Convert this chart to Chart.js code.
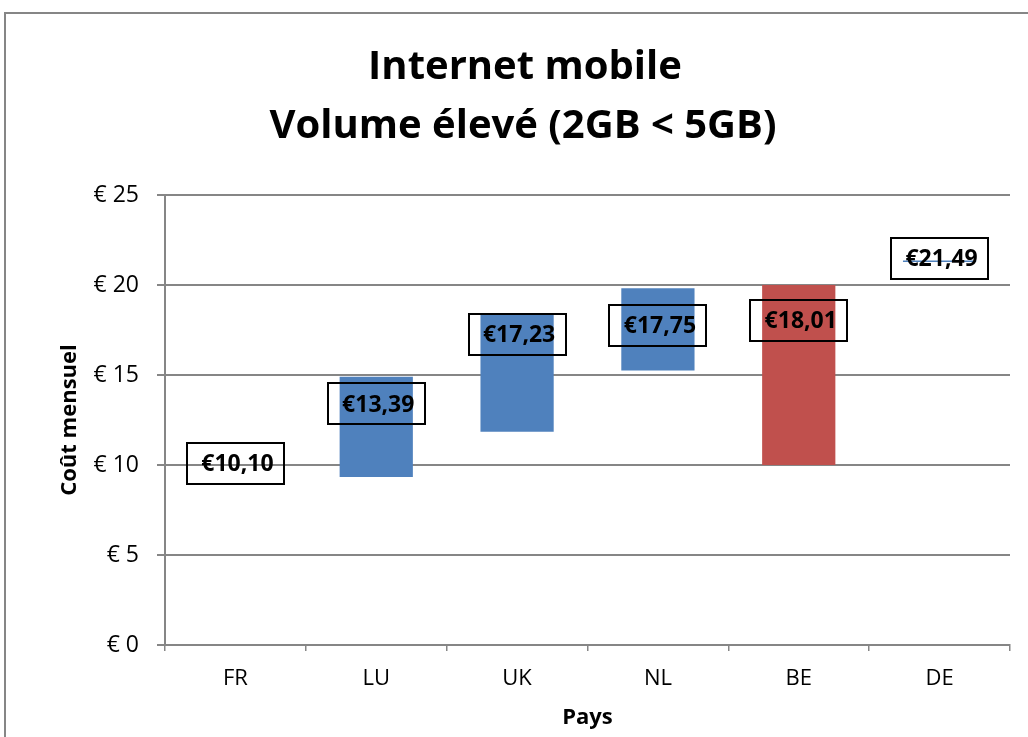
<!DOCTYPE html>
<html>
<head>
<meta charset="utf-8">
<script src="https://cdn.jsdelivr.net/npm/chart.js@4/dist/chart.umd.min.js"></script>
<style>
  html, body { margin: 0; padding: 0; background: #fff; }
  canvas { display: block; }
</style>
</head>
<body>
<canvas id="chart" width="1028" height="737"></canvas>
<script>
// data
const countries = ['FR', 'LU', 'UK', 'NL', 'BE', 'DE'];
const barLow  = [null, 9.33, 11.85, 15.25, 10.0, 21.28];
const barHigh = [null, 14.9, 18.35, 19.82, 20.0, 21.36];
const barColors = ['#4F81BD', '#4F81BD', '#4F81BD', '#4F81BD', '#C0504D', '#4F81BD'];
const priceLabels = [10.10, 13.39, 17.23, 17.75, 18.01, 21.49];
const titleLines = ['Internet mobile', 'Volume élevé (2GB < 5GB)'];

const GRID = '#868686';
const FONT = "'Open Sans', 'Noto Sans', sans-serif";

const ranges = countries.map((c, i) => barLow[i] == null ? null : [barLow[i], barHigh[i]]);

// white page + grey frame + two-line title
const frame = {
    id: 'frame',
    beforeDraw(chart) {
        const ctx = chart.ctx;
        ctx.save();
        ctx.fillStyle = '#fff';
        ctx.fillRect(0, 0, chart.width, chart.height);
        ctx.strokeStyle = GRID;
        ctx.lineWidth = 2;
        ctx.strokeRect(5, 13, 1100, 900);
        ctx.fillStyle = '#000';
        ctx.font = 'bold 40px ' + FONT;
        ctx.textAlign = 'center';
        ctx.textBaseline = 'alphabetic';
        ctx.fillText(titleLines[0], 525, 79);
        ctx.fillText(titleLines[1], 523, 138);
        ctx.restore();
    }
};

// boxed value labels drawn at the label series points
const boxedLabels = {
    id: 'boxedLabels',
    afterDatasetsDraw(chart) {
        const ctx = chart.ctx;
        const meta = chart.getDatasetMeta(1);
        ctx.save();
        ctx.strokeStyle = '#000';
        ctx.lineWidth = 2;
        ctx.fillStyle = '#000';
        ctx.font = 'bold 23px ' + FONT;
        ctx.textAlign = 'center';
        ctx.textBaseline = 'middle';
        meta.data.forEach((pt, i) => {
            const w = 97, h = 41;
            ctx.strokeRect(Math.round(pt.x - w / 2), Math.round(pt.y - h / 2), w, h);
            const txt = '€' + priceLabels[i].toFixed(2).replace('.', ',');
            ctx.fillText(txt, pt.x + 2, pt.y + 1);
        });
        ctx.restore();
    }
};

new Chart(document.getElementById('chart'), {
    data: {
        labels: countries,
        datasets: [{
            type: 'bar',
            data: ranges,
            backgroundColor: barColors,
            borderWidth: 0,
            barPercentage: 0.52,
            categoryPercentage: 1.0
        }, {
            type: 'line',
            data: priceLabels,
            showLine: false,
            pointRadius: 0,
            pointHitRadius: 0
        }]
    },
    options: {
        responsive: false,
        animation: false,
        layout: { padding: { top: 195, right: 18, left: 0, bottom: 0 } },
        plugins: {
            legend: { display: false },
            tooltip: { enabled: false },
            title: { display: false }
        },
        scales: {
            x: {
                offset: true,
                grid: {
                    offset: true,
                    drawOnChartArea: false,
                    drawTicks: true,
                    tickLength: 6,
                    color: GRID,
                    lineWidth: 1.5
                },
                border: { color: GRID, width: 2 },
                ticks: { color: '#000', font: { family: FONT, size: 22 }, padding: 15 },
                title: {
                    display: true,
                    text: 'Pays',
                    color: '#000',
                    font: { family: FONT, size: 22, weight: 'bold' },
                    padding: { top: 0, bottom: 6 }
                },
                afterFit(scale) { scale.height = 92; }
            },
            y: {
                min: 0,
                max: 25,
                ticks: {
                    stepSize: 5,
                    color: '#000',
                    font: { family: FONT, size: 23 },
                    padding: 18,
                    callback: v => '€ ' + v
                },
                grid: { color: GRID, lineWidth: 2, tickLength: 8 },
                border: { color: GRID, width: 2 },
                title: {
                    display: true,
                    text: 'Coût mensuel',
                    color: '#000',
                    font: { family: FONT, size: 22, weight: 'bold' },
                    padding: { top: 57, bottom: 0 }
                },
                afterFit(scale) { scale.width = 165; }
            }
        }
    },
    plugins: [frame, boxedLabels]
});
</script>
</body>
</html>
